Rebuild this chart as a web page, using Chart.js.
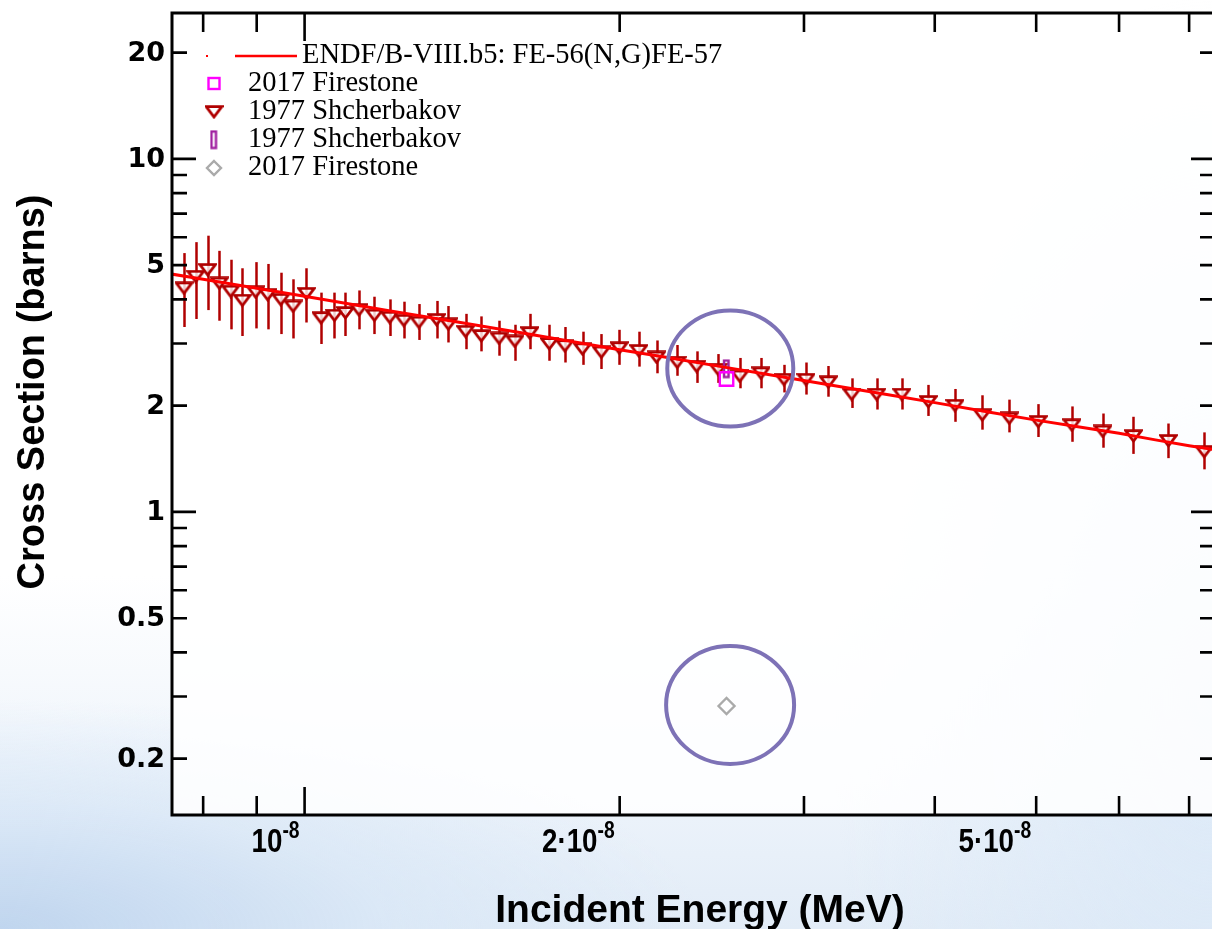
<!DOCTYPE html>
<html><head><meta charset="utf-8">
<script src="https://cdn.jsdelivr.net/npm/chart.js@4.4.0/dist/chart.umd.min.js"></script>
<style>
html,body{margin:0;padding:0;width:1212px;height:929px;overflow:hidden;}
body{background:
 radial-gradient(ellipse 700px 230px at 0% 100%, rgba(190,212,238,0.95) 0%, rgba(215,230,246,0.7) 55%, rgba(255,255,255,0) 100%),
 radial-gradient(ellipse 380px 700px at 100% 75%, rgba(218,232,247,0.9) 0%, rgba(255,255,255,0) 100%),
 linear-gradient(to bottom, #ffffff 0%, #ffffff 62%, #eef4fb 84%, #e2ecf7 100%);}
#wrap{position:absolute;left:0;top:0;width:1230px;height:929px;}
</style></head><body><div id="wrap"><canvas id="c" width="1230" height="929"></canvas></div>
<script>
// ---- data ----
const endfE  = [7.46e-9, 8e-9, 9e-9, 1e-8, 1.2e-8, 1.4e-8, 1.6e-8, 1.8e-8, 2e-8, 2.2e-8, 2.5e-8, 2.8e-8, 3.2e-8, 3.6e-8, 4e-8, 4.5e-8, 5e-8, 5.5e-8, 6e-8, 6.5e-8, 7e-8, 7.42e-8];
const endfXS = [4.72, 4.56, 4.30, 4.08, 3.72, 3.45, 3.23, 3.04, 2.88, 2.75, 2.58, 2.44, 2.28, 2.15, 2.04, 1.92, 1.82, 1.74, 1.67, 1.60, 1.54, 1.50];

const shchE = [7.67e-9, 7.87e-9, 8.08e-9, 8.29e-9, 8.50e-9, 8.72e-9, 8.98e-9, 9.22e-9, 9.49e-9, 9.75e-9,
  1.004e-8, 1.037e-8, 1.068e-8, 1.094e-8, 1.127e-8, 1.166e-8, 1.206e-8, 1.244e-8, 1.286e-8, 1.337e-8,
  1.372e-8, 1.425e-8, 1.475e-8, 1.534e-8, 1.588e-8, 1.641e-8, 1.713e-8, 1.773e-8, 1.843e-8, 1.921e-8,
  1.998e-8, 2.086e-8, 2.169e-8, 2.270e-8, 2.369e-8, 2.484e-8, 2.605e-8, 2.729e-8, 2.871e-8, 3.013e-8,
  3.165e-8, 3.332e-8, 3.520e-8, 3.720e-8, 3.944e-8, 4.182e-8, 4.441e-8, 4.713e-8, 5.023e-8, 5.408e-8,
  5.789e-8, 6.193e-8, 6.688e-8, 7.236e-8];
const shchXS = [4.30, 4.64, 4.85, 4.44, 4.21, 3.97, 4.19, 4.12, 3.99, 3.82,
  4.15, 3.54, 3.60, 3.66, 3.73, 3.60, 3.55, 3.48, 3.44, 3.50,
  3.40, 3.24, 3.15, 3.10, 3.04, 3.21, 2.99, 2.95, 2.89, 2.83,
  2.91, 2.86, 2.74, 2.65, 2.58, 2.53, 2.42, 2.47, 2.37, 2.37,
  2.33, 2.15, 2.15, 2.15, 2.05, 2.00, 1.88, 1.84, 1.80, 1.76,
  1.69, 1.64, 1.59, 1.48];
const shchHi = [5.41, 5.81, 6.06, 5.49, 5.18, 4.90, 5.10, 5.04, 4.76, 4.56,
  4.90, 4.18, 4.18, 4.18, 4.24, 4.07, 4.00, 3.94, 3.88, 3.96,
  3.83, 3.64, 3.58, 3.48, 3.39, 3.64, 3.39, 3.34, 3.24, 3.19,
  3.28, 3.24, 3.06, 2.97, 2.85, 2.80, 2.73, 2.73, 2.61, 2.65,
  2.59, 2.39, 2.39, 2.39, 2.29, 2.23, 2.14, 2.08, 2.02, 1.99,
  1.90, 1.86, 1.78, 1.68];
const shchLo = [3.34, 3.52, 3.73, 3.48, 3.29, 3.15, 3.31, 3.29, 3.19, 3.10,
  3.44, 2.99, 3.10, 3.15, 3.29, 3.19, 3.15, 3.10, 3.07, 3.10,
  3.02, 2.89, 2.85, 2.77, 2.68, 2.89, 2.68, 2.65, 2.61, 2.54,
  2.61, 2.58, 2.47, 2.43, 2.32, 2.32, 2.24, 2.24, 2.18, 2.15,
  2.12, 1.97, 1.95, 1.95, 1.87, 1.80, 1.71, 1.68, 1.63, 1.58,
  1.52, 1.46, 1.42, 1.32];

const firestoneE = [2.53e-8];   const firestoneXS = [2.38];
const shchThE = [2.53e-8];      const shchThXS = [2.54];
const firestone2E = [2.53e-8];  const firestone2XS = [0.282];

const circleE  = [2.551e-8, 2.55e-8];
const circleXS = [2.55, 0.284];

const yTickVals   = [0.2, 0.5, 1, 2, 5, 10, 20];
const yTickLabels = ['0.2', '0.5', '1', '2', '5', '10', '20'];
const xTickVals   = [1e-8, 2e-8, 5e-8];
const xTickBase   = ['10', '2\u00b710', '5\u00b710'];
const xTickExp    = ['-8', '-8', '-8'];

const xMin = 7.47e-9, xMax = 7.41e-8, yMin = 0.1385, yMax = 25.9;
const legendLabels = ['ENDF/B-VIII.b5: FE-56(N,G)FE-57', '2017 Firestone', '1977 Shcherbakov', '1977 Shcherbakov', '2017 Firestone'];

// ---- marker images ----
const SHCH = '#b00000';
function triImg(){
  const c = document.createElement('canvas'); c.width = 19; c.height = 14;
  const g = c.getContext('2d');
  g.beginPath(); g.moveTo(1.7,1.7); g.lineTo(17.3,1.7); g.lineTo(9.5,12); g.closePath();
  g.fillStyle = 'rgba(255,255,255,0.8)'; g.fill();
  g.lineWidth = 2.8; g.strokeStyle = SHCH; g.lineJoin = 'miter'; g.stroke();
  return c;
}
function barImg(){
  const c = document.createElement('canvas'); c.width = 9; c.height = 21;
  const g = c.getContext('2d');
  g.lineWidth = 2.4; g.strokeStyle = '#a020a0';
  g.strokeRect(2, 2, 4.5, 16.5);
  return c;
}
const TRI = triImg(), BAR = barImg();
const pts = (xs, ys) => xs.map((x, i) => ({x: x, y: ys[i]}));

function drawText(ctx, txt, x, y, font, align, baseline, color, hs){
  ctx.save();
  ctx.font = font; ctx.textAlign = align; ctx.textBaseline = baseline; ctx.fillStyle = color || '#000';
  ctx.translate(x, y); ctx.scale(hs || 1, 1);
  ctx.fillText(txt, 0, 0);
  ctx.restore();
}

const deco = {
  id: 'deco',
  beforeDraw(chart){
    const {ctx, chartArea: a} = chart;
    ctx.save(); ctx.fillStyle = 'rgba(255,255,255,0.86)';
    ctx.fillRect(a.left, a.top, a.right - a.left, a.bottom - a.top); ctx.restore();
  },
  beforeDatasetsDraw(chart){
    const {ctx, chartArea: a, scales: {x: xs, y: ys}} = chart;
    ctx.save();
    ctx.beginPath(); ctx.rect(a.left, a.top, a.right - a.left, a.bottom - a.top); ctx.clip();
    ctx.strokeStyle = SHCH; ctx.lineWidth = 2.5;
    for (let i = 0; i < shchE.length; i++){
      const px = Math.round(xs.getPixelForValue(shchE[i])) + 0.5;
      ctx.beginPath();
      ctx.moveTo(px, ys.getPixelForValue(shchHi[i]));
      ctx.lineTo(px, ys.getPixelForValue(shchLo[i]));
      ctx.stroke();
    }
    ctx.restore();
  },
  afterDatasetsDraw(chart){
    const {ctx, chartArea: a, scales: {x: xs, y: ys}} = chart;
    ctx.save();
    // annotation ellipses
    ctx.strokeStyle = '#7d72b6'; ctx.lineWidth = 4;
    const rads = [[63, 58], [64, 59]];
    for (let i = 0; i < circleE.length; i++){
      ctx.beginPath();
      ctx.ellipse(xs.getPixelForValue(circleE[i]), ys.getPixelForValue(circleXS[i]), rads[i][0], rads[i][1], 0, 0, Math.PI * 2);
      ctx.stroke();
    }
    // frame
    ctx.strokeStyle = '#000'; ctx.lineWidth = 3;
    ctx.strokeRect(a.left, a.top, a.right - a.left, a.bottom - a.top);
    // ticks
    ctx.lineWidth = 2.6;
    const big = 24, small = 15;
    for (const d of [0.1, 1, 10]){
      for (let m = 1; m <= 9; m++){
        const v = m * d; if (v < yMin || v > yMax) continue;
        const len = m === 1 ? big : small; const py = ys.getPixelForValue(v);
        ctx.beginPath(); ctx.moveTo(a.left, py); ctx.lineTo(a.left + len, py);
        ctx.moveTo(a.right, py); ctx.lineTo(a.right - len, py); ctx.stroke();
      }
    }
    for (const d of [1e-9, 1e-8]){
      for (let m = 1; m <= 9; m++){
        const v = m * d; if (v < xMin || v > xMax) continue;
        const len = m === 1 ? big + 4 : small + 4; const px = xs.getPixelForValue(v);
        ctx.beginPath(); ctx.moveTo(px, a.bottom); ctx.lineTo(px, a.bottom - len);
        ctx.moveTo(px, a.top); ctx.lineTo(px, a.top + len); ctx.stroke();
      }
    }
    // y tick labels
    for (let i = 0; i < yTickVals.length; i++){
      drawText(ctx, yTickLabels[i], a.left - 7, ys.getPixelForValue(yTickVals[i]) + 1, 'bold 27px "DejaVu Sans"', 'right', 'middle');
    }
    // x tick labels with superscript exponent
    const HS = 0.84;
    const fBase = 'bold 33px "Liberation Sans", Arial, sans-serif';
    const fExp = 'bold 23px "Liberation Sans", Arial, sans-serif';
    for (let i = 0; i < xTickVals.length; i++){
      const px = xs.getPixelForValue(xTickVals[i]) - 5;
      ctx.font = fExp;
      const ew = ctx.measureText(xTickExp[i]).width * HS;
      drawText(ctx, xTickExp[i], px, 838, fExp, 'right', 'alphabetic', '#000', HS);
      drawText(ctx, xTickBase[i], px - ew, 852, fBase, 'right', 'alphabetic', '#000', HS);
    }
    // axis titles
    drawText(ctx, 'Incident Energy (MeV)', 700, 922, 'bold 39px "Liberation Sans", Arial, sans-serif', 'center', 'alphabetic');
    ctx.save(); ctx.translate(44, 392); ctx.rotate(-Math.PI / 2);
    drawText(ctx, 'Cross Section (barns)', 0, 0, 'bold 38px "Liberation Sans", Arial, sans-serif', 'center', 'alphabetic');
    ctx.restore();
    // legend
    const lf = '28.5px "Liberation Serif", "Times New Roman", serif';
    ctx.fillStyle = '#ff0000'; ctx.fillRect(206, 55, 2, 2);
    ctx.strokeStyle = '#ff0000'; ctx.lineWidth = 2.5;
    ctx.beginPath(); ctx.moveTo(235, 56); ctx.lineTo(297, 56); ctx.stroke();
    drawText(ctx, legendLabels[0], 302, 56, lf, 'left', 'middle');
    ctx.strokeStyle = '#ff00ff'; ctx.lineWidth = 2.4; ctx.strokeRect(208.5, 78, 11, 11);
    drawText(ctx, legendLabels[1], 248, 84, lf, 'left', 'middle');
    ctx.drawImage(TRI, 214 - 9.5, 112 - 7);
    drawText(ctx, legendLabels[2], 248, 112, lf, 'left', 'middle');
    ctx.drawImage(BAR, 214 - 4.5, 140 - 10.5);
    drawText(ctx, legendLabels[3], 248, 140, lf, 'left', 'middle');
    ctx.strokeStyle = '#aaaaaa'; ctx.lineWidth = 2.4;
    ctx.beginPath(); ctx.moveTo(214, 161); ctx.lineTo(221, 168); ctx.lineTo(214, 175); ctx.lineTo(207, 168); ctx.closePath(); ctx.stroke();
    drawText(ctx, legendLabels[4], 248, 168, lf, 'left', 'middle');
    ctx.restore();
  }
};

new Chart(document.getElementById('c'), {
  type: 'scatter',
  data: { datasets: [
    { label: legendLabels[0], type: 'line', data: pts(endfE, endfXS), borderColor: '#ff0000', borderWidth: 3,
      pointRadius: 0, showLine: true, fill: false, tension: 0, order: 0 },
    { label: legendLabels[1], data: pts(firestoneE, firestoneXS), pointStyle: 'rect', pointRadius: 9.5,
      borderColor: '#ff00ff', borderWidth: 2.4, backgroundColor: 'rgba(0,0,0,0)', order: 1 },
    { label: legendLabels[2], data: pts(shchE, shchXS), pointStyle: TRI, pointRadius: 7, order: 2 },
    { label: legendLabels[3], data: pts(shchThE, shchThXS), pointStyle: BAR, pointRadius: 7, order: 1 },
    { label: legendLabels[4], data: pts(firestone2E, firestone2XS), pointStyle: 'rectRot', pointRadius: 8,
      borderColor: '#aaaaaa', borderWidth: 2.4, backgroundColor: 'rgba(0,0,0,0)', order: 1 }
  ]},
  options: {
    responsive: false, animation: false, devicePixelRatio: 1, events: [],
    layout: { padding: { left: 172, top: 13, right: 15, bottom: 114 } },
    scales: {
      x: { type: 'logarithmic', bounds: 'data', min: xMin, max: xMax, display: false },
      y: { type: 'logarithmic', bounds: 'data', min: yMin, max: yMax, display: false }
    },
    plugins: { legend: { display: false }, tooltip: { enabled: false } }
  },
  plugins: [deco]
});
</script></body></html>
